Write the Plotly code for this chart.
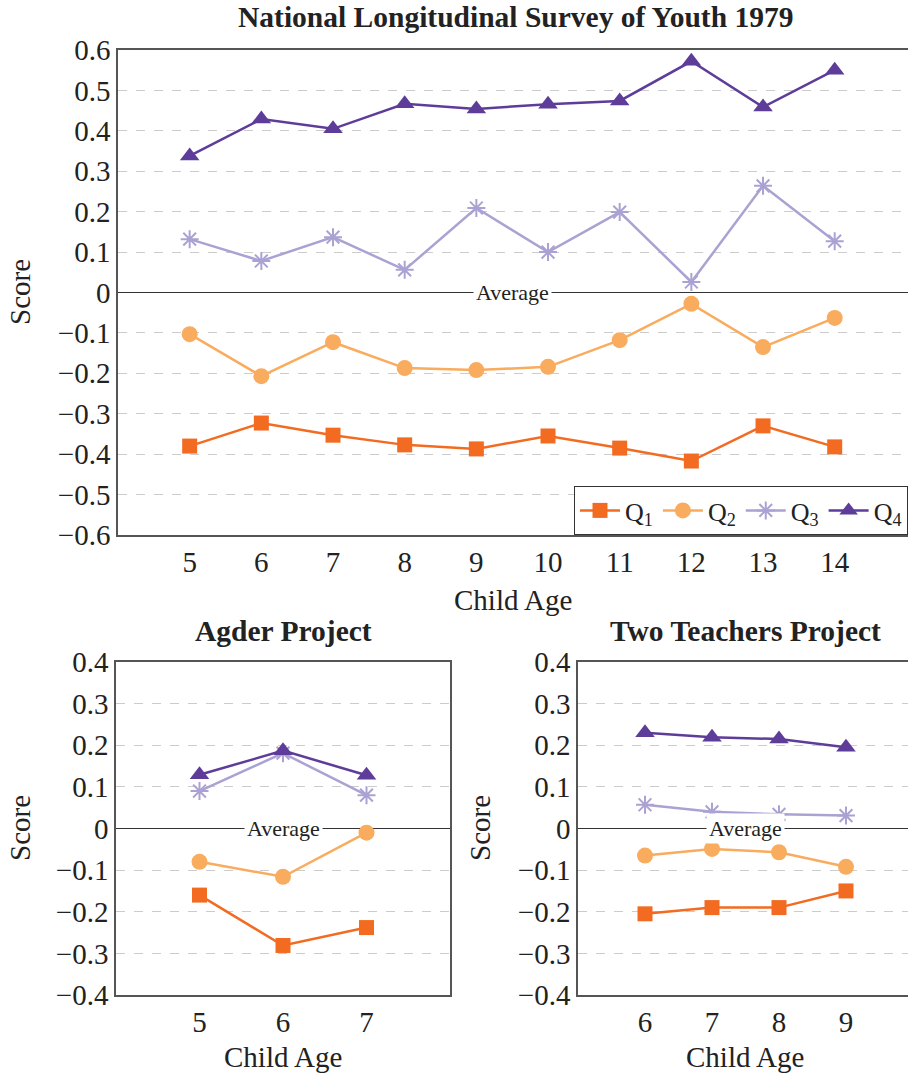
import plotly.graph_objects as go

# ---------------- data ----------------
series_names = ["Q<sub>1</sub>", "Q<sub>2</sub>", "Q<sub>3</sub>", "Q<sub>4</sub>"]

nlsy_age = [5, 6, 7, 8, 9, 10, 11, 12, 13, 14]
nlsy_q1 = [-0.380, -0.323, -0.353, -0.377, -0.387, -0.355, -0.385, -0.417, -0.330, -0.382]
nlsy_q2 = [-0.103, -0.207, -0.123, -0.187, -0.192, -0.184, -0.118, -0.028, -0.135, -0.063]
nlsy_q3 = [0.132, 0.078, 0.137, 0.056, 0.209, 0.100, 0.199, 0.026, 0.264, 0.127]
nlsy_q4 = [0.338, 0.429, 0.405, 0.467, 0.454, 0.466, 0.474, 0.572, 0.459, 0.550]

agder_age = [5, 6, 7]
agder_q1 = [-0.160, -0.281, -0.238]
agder_q2 = [-0.080, -0.116, -0.010]
agder_q3 = [0.090, 0.181, 0.080]
agder_q4 = [0.129, 0.187, 0.128]

tt_age = [6, 7, 8, 9]
tt_q1 = [-0.205, -0.190, -0.190, -0.150]
tt_q2 = [-0.065, -0.049, -0.057, -0.092]
tt_q3 = [0.057, 0.040, 0.034, 0.031]
tt_q4 = [0.230, 0.219, 0.215, 0.195]

top_ticks = [-0.6, -0.5, -0.4, -0.3, -0.2, -0.1, 0, 0.1, 0.2, 0.3, 0.4, 0.5, 0.6]
top_ticktext = ["\u22120.6", "\u22120.5", "\u22120.4", "\u22120.3", "\u22120.2", "\u22120.1",
                "0", "0.1", "0.2", "0.3", "0.4", "0.5", "0.6"]
bot_ticks = [-0.4, -0.3, -0.2, -0.1, 0, 0.1, 0.2, 0.3, 0.4]
bot_ticktext = ["\u22120.4", "\u22120.3", "\u22120.2", "\u22120.1", "0", "0.1", "0.2", "0.3", "0.4"]

titles = ["National Longitudinal Survey of Youth 1979", "Agder Project", "Two Teachers Project"]

# ---------------- style ----------------
colors = ["#f26b21", "#f9ab5e", "#aba2d3", "#5e3c99"]
symbols = ["square", "circle", "asterisk-open", "triangle-up"]
sizes = [15, 16, 15, 17]
FONT = "Liberation Serif"
W, H = 908, 1077
TICK = 29

def px_x(p):
    return p / W

def px_y(p):
    return 1 - p / H

fig = go.Figure()

datasets = [
    ("x", "y", nlsy_age, [nlsy_q1, nlsy_q2, nlsy_q3, nlsy_q4], True),
    ("x2", "y2", agder_age, [agder_q1, agder_q2, agder_q3, agder_q4], False),
    ("x3", "y3", tt_age, [tt_q1, tt_q2, tt_q3, tt_q4], False),
]
for xa, ya, ages, qs, show in datasets:
    for i, q in enumerate(qs):
        mk = dict(symbol=symbols[i], size=sizes[i], color=colors[i])
        if symbols[i] == "asterisk-open":
            mk["line"] = dict(width=2, color=colors[i])
        else:
            mk["line"] = dict(width=0)
        fig.add_trace(go.Scatter(
            x=ages, y=q, xaxis=xa, yaxis=ya, mode="lines+markers",
            name=series_names[i], showlegend=show,
            line=dict(color=colors[i], width=2.5), marker=mk,
        ))

axis_common = dict(
    showline=True, linecolor="#555555", linewidth=1.5, ticks="",
    showgrid=False, zeroline=False, automargin=False,
    tickfont=dict(family=FONT, size=TICK, color="#222"),
)
yaxis_common = dict(
    showline=True, linecolor="#555555", linewidth=1.5, ticks="", automargin=False,
    showgrid=True, gridcolor="#cccccc", griddash="dash", gridwidth=1,
    zeroline=True, zerolinecolor="#333333", zerolinewidth=1.3,
    tickfont=dict(family=FONT, size=TICK, color="#222"),
)

top_x0, top_x1 = 118, W
top_y0, top_y1 = 50, 535
bl_x0, bl_x1 = 116, 450
br_x0, br_x1 = 578, W
b_y0, b_y1 = 662, 995

fig.update_layout(
    width=W, height=H,
    margin=dict(l=0, r=0, t=0, b=0, autoexpand=False),
    paper_bgcolor="white", plot_bgcolor="white",
    font=dict(family=FONT, color="#222"),
    xaxis=dict(axis_common, domain=[px_x(top_x0), px_x(top_x1)], range=[4, 4 + (top_x1 - top_x0) / 71.67],
               tickvals=nlsy_age, anchor="y", mirror=True),
    yaxis=dict(yaxis_common, domain=[px_y(top_y1), px_y(top_y0)], range=[-0.6, 0.6],
               tickvals=top_ticks, ticktext=top_ticktext, anchor="x", mirror=False),
    xaxis2=dict(axis_common, domain=[px_x(bl_x0), px_x(bl_x1)], range=[4, 8],
                tickvals=agder_age, anchor="y2", mirror=True),
    yaxis2=dict(yaxis_common, domain=[px_y(b_y1), px_y(b_y0)], range=[-0.4, 0.4],
                tickvals=bot_ticks, ticktext=bot_ticktext, anchor="x2", mirror=True),
    xaxis3=dict(axis_common, domain=[px_x(br_x0), px_x(br_x1)], range=[5, 5 + (br_x1 - br_x0) / 67.0],
                tickvals=tt_age, anchor="y3", mirror=True),
    yaxis3=dict(yaxis_common, domain=[px_y(b_y1), px_y(b_y0)], range=[-0.4, 0.4],
                tickvals=bot_ticks, ticktext=bot_ticktext, anchor="x3", mirror=False),
    legend=dict(
        orientation="h", x=1, xanchor="right", y=px_y(top_y1), yanchor="bottom",
        bgcolor="white", bordercolor="#333333", borderwidth=1,
        font=dict(family=FONT, size=26, color="#222"),
        itemwidth=40, tracegroupgap=0,
    ),
    showlegend=True,
)

ann = []
# titles
ann.append(dict(text="<b>" + titles[0] + "</b>", x=px_x(515), y=px_y(17)))
ann.append(dict(text="<b>" + titles[1] + "</b>", x=px_x(283), y=px_y(631)))
ann.append(dict(text="<b>" + titles[2] + "</b>", x=px_x(745), y=px_y(631)))
for a in ann:
    a.update(xref="paper", yref="paper", xanchor="center", yanchor="middle", showarrow=False,
             font=dict(family=FONT, size=29.5, color="#222"))
# axis titles
for xc, yc in [(513, 600), (283, 1057), (745, 1057)]:
    ann.append(dict(text="Child Age", x=px_x(xc), y=px_y(yc), xref="paper", yref="paper",
                    xanchor="center", yanchor="middle",
                    showarrow=False, font=dict(family=FONT, size=29, color="#222")))
for xc, yc in [(20, 292), (20, 828), (480, 828)]:
    ann.append(dict(text="Score", x=px_x(xc), y=px_y(yc), xref="paper", yref="paper", textangle=-90,
                    xanchor="center", yanchor="middle",
                    showarrow=False, font=dict(family=FONT, size=29, color="#222")))
# average labels
for xa, ya, xc in [("x", "y", 9.5), ("x2", "y2", 6), ("x3", "y3", 7.5)]:
    ann.append(dict(text="Average", x=xc, y=0, xref=xa, yref=ya, showarrow=False,
                    xanchor="center", yanchor="middle",
                    bgcolor="white", borderpad=2,
                    font=dict(family=FONT, size=22, color="#222")))
fig.update_layout(annotations=ann)

fig.write_html("out.html")
